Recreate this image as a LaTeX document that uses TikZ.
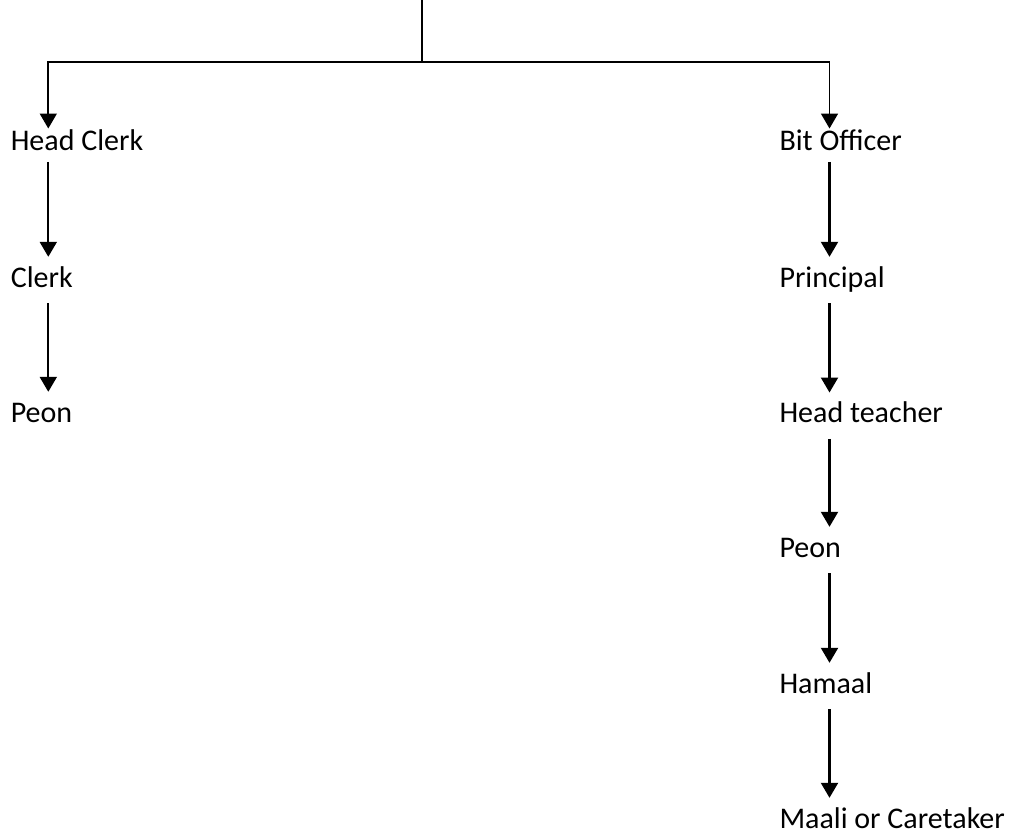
\documentclass[tikz,border=0pt]{standalone}
\usepackage{fontspec}
\setmainfont{Carlito}
\usetikzlibrary{arrows.meta}

\tikzset{
  role/.style={anchor=base west, inner xsep=0pt, inner ysep=0pt,
    text height=30pt, text depth=16pt, font=\fontsize{30}{36}\selectfont},
  toprole/.style={role, text height=22pt, text depth=11pt},
  link/.style={line width=1.6pt},
  arr/.style={line width=2.2pt, -{Triangle[width=17pt,length=15pt]}},
  elbow/.style={line width=1.7pt, -{Triangle[width=17pt,length=15pt]}},
}

\begin{document}
\begin{tikzpicture}[x=1pt, y=-1pt]
            \useasboundingbox (0,0) rectangle (1012,836);
            \coordinate (top) at (422,0);
            \coordinate (split) at (422,62);
            \coordinate (lcol) at (48.3,0);
            \coordinate (rcol) at (829.5,0);
            % left branch
            \node at (10.6,150.7) [toprole] (hc) {Head Clerk};
            \node at (10.6,287) [role] (cl) {Clerk};
            \node at (10.6,422) [role] (lpeon) {Peon};
            % right branch
            \node at (779.3,150.7) [toprole] (bo) {Bit Officer};
            \node at (779.3,287) [role] (pr) {Principal};
            \node at (779.3,422.7) [role] (ht) {Head teacher};
            \node at (779.3,557) [role] (rpeon) {Peon};
            \node at (779.3,693) [role] (ha) {Hamaal};
            \node at (779.3,828) [role] (ma) {Maali or Caretaker};
            \draw[link] (top) -- (split);
            \draw[elbow] (split) -| (lcol |- hc.north);
            \draw[elbow] (split) -| (rcol |- bo.north);
            \draw[arr] (lcol |- hc.south) -- (lcol |- cl.north);
            \draw[arr] (lcol |- cl.south) -- (lcol |- lpeon.north);
            \draw[arr] (rcol |- bo.south) -- (rcol |- pr.north);
            \draw[arr] (rcol |- pr.south) -- (rcol |- ht.north);
            \draw[arr] (rcol |- ht.south) -- (rcol |- rpeon.north);
            \draw[arr] (rcol |- rpeon.south) -- (rcol |- ha.north);
            \draw[arr] (rcol |- ha.south) -- (rcol |- ma.north);
        \end{tikzpicture}
\end{document}
